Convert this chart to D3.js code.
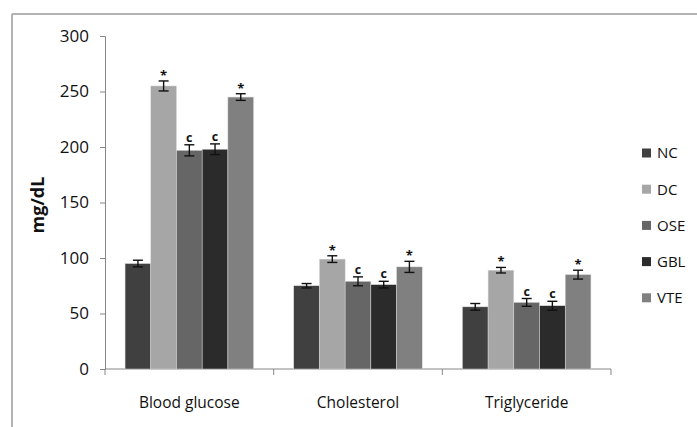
<!DOCTYPE html>
<html>
<head>
<meta charset="utf-8">
<script src="https://cdn.jsdelivr.net/npm/d3@7"></script>
<style>
  body { margin: 0; background: #fff; }
  svg text { font-family: "Open Sans", "Noto Sans", sans-serif; fill: #111; }
</style>
</head>
<body>
<svg width="697" height="427"></svg>
<script>
var categories = ["Blood glucose", "Cholesterol", "Triglyceride"];
var groups = ["NC", "DC", "OSE", "GBL", "VTE"];
var colors = ["#404040", "#a6a6a6", "#666666", "#2b2b2b", "#808080"];

// mean values per group, one entry per category
var nc_values  = [95, 75, 56];
var dc_values  = [255, 99, 89];
var ose_values = [197, 79, 60];
var gbl_values = [198, 76, 57];
var vte_values = [245, 92, 85];

// error (+/-)
var nc_err  = [3, 2, 3];
var dc_err  = [4.5, 3, 2.5];
var ose_err = [5, 4, 3.5];
var gbl_err = [4.8, 3, 4];
var vte_err = [3, 5, 4];

// significance marks
var nc_mark  = ["", "", ""];
var dc_mark  = ["*", "*", "*"];
var ose_mark = ["c", "c", "c"];
var gbl_mark = ["c", "c", "c"];
var vte_mark = ["*", "*", "*"];

var y_ticks = [0, 50, 100, 150, 200, 250, 300];

var all_values = [nc_values, dc_values, ose_values, gbl_values, vte_values];
var all_errs = [nc_err, dc_err, ose_err, gbl_err, vte_err];
var all_marks = [nc_mark, dc_mark, ose_mark, gbl_mark, vte_mark];

var svg = d3.select("svg"),
    margin = {left: 105, top: 36, right: 86, bottom: 58},
    width = 697 - margin.left - margin.right,
    height = 427 - margin.top - margin.bottom;

// outer frame
svg.append("line").attr("x1", 12).attr("y1", 14).attr("x2", 697).attr("y2", 14)
    .attr("stroke", "#9a9a9a").attr("stroke-width", 1.5);
svg.append("line").attr("x1", 12).attr("y1", 14).attr("x2", 12).attr("y2", 427)
    .attr("stroke", "#9a9a9a").attr("stroke-width", 1.5);

var x0 = d3.scaleBand().domain(categories).range([0, width]).paddingInner(0.238).paddingOuter(0.119);
var x1 = d3.scaleBand().domain(groups).range([0, x0.bandwidth()]);
var y = d3.scaleLinear().domain([0, 300]).range([height, 0]);

var chart = svg.append("g").attr("transform", "translate(" + margin.left + "," + margin.top + ")");

// y axis
var y_axis = chart.append("g")
    .call(d3.axisLeft(y).tickValues(y_ticks).tickSize(5).tickPadding(11));
y_axis.select(".domain").attr("stroke", "#868686");
y_axis.selectAll(".tick line").attr("stroke", "#868686");
y_axis.selectAll("text").style("font-size", "17px").attr("fill", "#111");

// x axis with ticks at category boundaries
var x_axis = chart.append("g").attr("transform", "translate(0," + height + ")");
x_axis.append("line").attr("x1", 0).attr("x2", width).attr("y1", 0).attr("y2", 0).attr("stroke", "#868686");
var bounds = d3.range(categories.length + 1).map(function(i) { return i * width / categories.length; });
x_axis.selectAll(".xtick").data(bounds).enter().append("line")
    .attr("x1", function(d) { return d; }).attr("x2", function(d) { return d; })
    .attr("y1", 0).attr("y2", 6).attr("stroke", "#868686");
x_axis.selectAll(".xlabel").data(categories).enter().append("text")
    .attr("x", function(d, i) { return (bounds[i] + bounds[i + 1]) / 2; })
    .attr("y", 39)
    .attr("text-anchor", "middle")
    .style("font-size", "15.5px")
    .text(function(d) { return d; });

// bars
for (var g = 0; g < groups.length; g++) {
    for (var c = 0; c < categories.length; c++) {
        var bx = x0(categories[c]) + x1(groups[g]);
        var bw = x1.bandwidth();
        var v = all_values[g][c];
        var e = all_errs[g][c];
        chart.append("rect")
            .attr("x", bx).attr("y", y(v))
            .attr("width", bw).attr("height", height - y(v))
            .attr("fill", colors[g])
            .attr("stroke", "#d9d9d9").attr("stroke-width", 0.5);

        var cx = bx + bw / 2;
        chart.append("line").attr("x1", cx).attr("x2", cx).attr("y1", y(v - e)).attr("y2", y(v + e))
            .attr("stroke", "#111").attr("stroke-width", 1.4);
        chart.append("line").attr("x1", cx - 5).attr("x2", cx + 5).attr("y1", y(v - e)).attr("y2", y(v - e))
            .attr("stroke", "#111").attr("stroke-width", 1.4);
        chart.append("line").attr("x1", cx - 5).attr("x2", cx + 5).attr("y1", y(v + e)).attr("y2", y(v + e))
            .attr("stroke", "#111").attr("stroke-width", 1.4);

        var m = all_marks[g][c];
        if (m) {
            chart.append("text")
                .attr("x", cx)
                .attr("y", y(v + e) - (m == "*" ? 1 : 3))
                .attr("text-anchor", "middle")
                .style("font-size", m == "*" ? "13px" : "12.5px")
                .style("font-weight", "bold")
                .attr("fill", m == "*" ? "#4a2f5e" : "#1f2430")
                .text(m);
        }
    }
}

// legend
var legend = svg.append("g").attr("transform", "translate(642,153)");
groups.forEach(function(name, i) {
    var row = legend.append("g").attr("transform", "translate(0," + (i * 36.2) + ")");
    row.append("rect").attr("x", 0).attr("y", -4.5).attr("width", 9).attr("height", 9).attr("fill", colors[i]);
    row.append("text").attr("x", 15).attr("y", 0).attr("dy", "0.36em")
        .style("font-size", "15px").text(name);
});

// y label
svg.append("text")
    .attr("transform", "translate(44,205) rotate(-90)")
    .attr("text-anchor", "middle")
    .style("font-size", "18px")
    .style("font-weight", "bold")
    .text("mg/dL");
</script>
</body>
</html>
